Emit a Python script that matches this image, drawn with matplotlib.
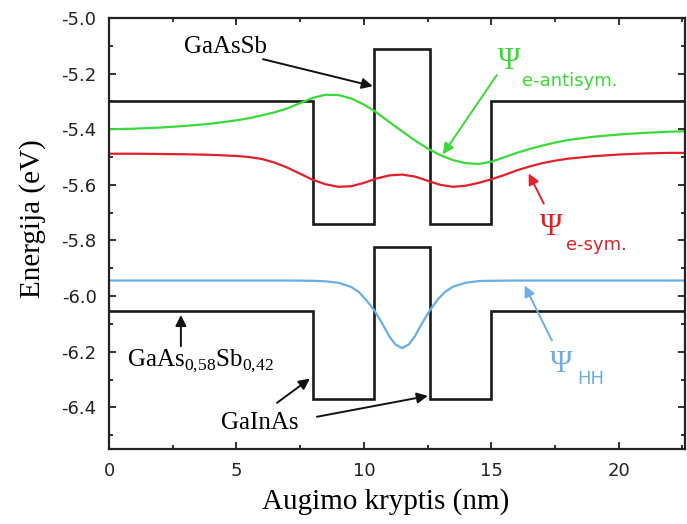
import numpy as np
import matplotlib
matplotlib.use("Agg")
import matplotlib.pyplot as plt
from matplotlib.ticker import MultipleLocator

plt.rcParams['axes.unicode_minus'] = False
plt.rcParams['mathtext.fontset'] = 'custom'
plt.rcParams['mathtext.rm'] = 'Liberation Serif'

# ---------------------------------------------------------------
# layer structure: GaAsSb / GaInAs / GaAsSb / GaInAs / GaAsSb
layer_edges = [0.0, 8.0, 10.4, 12.6, 15.0, 22.6]
cb_levels = [-5.30, -5.74, -5.11, -5.74, -5.30]      # conduction band edge (eV)
vb_levels = [-6.055, -6.37, -5.825, -6.37, -6.055]   # valence band edge (eV)

# electron wavefunction, antisymmetric state
x_anti = [0, 1, 2, 3, 4, 5, 5.5, 6, 6.5, 7, 7.5, 8, 8.5, 9, 9.5, 10, 10.4,
          11, 11.5, 12, 12.5, 13, 13.5, 14, 14.5, 15, 15.5, 16, 16.5, 17,
          17.5, 18, 19, 20, 21, 22, 22.6]
y_anti = [-5.400, -5.398, -5.394, -5.388, -5.380, -5.368, -5.360, -5.350,
          -5.339, -5.325, -5.306, -5.287, -5.276, -5.277, -5.289, -5.311,
          -5.333, -5.374, -5.407, -5.440, -5.469, -5.493, -5.511, -5.522,
          -5.525, -5.517, -5.501, -5.485, -5.471, -5.459, -5.448, -5.439,
          -5.427, -5.419, -5.413, -5.409, -5.407]

# electron wavefunction, symmetric state
x_sym = [0, 1, 2, 3, 4, 5, 5.5, 6, 6.5, 7, 7.5, 8, 8.5, 9, 9.5, 10, 10.5,
         11, 11.5, 12, 12.5, 13, 13.5, 14, 14.5, 15, 15.5, 16, 16.5, 17,
         17.5, 18, 19, 20, 21, 22, 22.6]
y_sym = [-5.488, -5.488, -5.489, -5.490, -5.492, -5.496, -5.500, -5.507,
         -5.520, -5.538, -5.560, -5.582, -5.598, -5.607, -5.605, -5.593,
         -5.577, -5.566, -5.563, -5.570, -5.585, -5.600, -5.607, -5.603,
         -5.593, -5.580, -5.565, -5.548, -5.534, -5.522, -5.513, -5.506,
         -5.497, -5.491, -5.487, -5.485, -5.485]

# heavy hole wavefunction
x_hh = [0, 2, 4, 6, 7, 8, 8.5, 9, 9.5, 9.8, 10.1, 10.4, 10.7, 11.0, 11.25,
        11.5, 11.75, 12.0, 12.3, 12.6, 12.9, 13.2, 13.5, 14, 14.5, 15, 16,
        18, 20, 22.6]
y_hh = [-5.944, -5.944, -5.944, -5.944, -5.944, -5.945, -5.947, -5.952,
        -5.967, -5.985, -6.015, -6.050, -6.095, -6.145, -6.175, -6.187,
        -6.175, -6.145, -6.095, -6.050, -6.012, -5.984, -5.966, -5.952,
        -5.946, -5.945, -5.944, -5.944, -5.944, -5.944]

green = '#3ad93a'
red = '#e0202a'
blue = '#6aaee2'
serif = 'Liberation Serif'

# ---------------------------------------------------------------
fig = plt.figure(figsize=(6.87, 5.24), dpi=100)
ax = fig.add_axes([0.1587, 0.1431, 0.8383, 0.8225])

ax.stairs(cb_levels, layer_edges, baseline=None, color='#1a1a1a', lw=1.9)
ax.stairs(vb_levels, layer_edges, baseline=None, color='#1a1a1a', lw=1.9)

ax.plot(x_anti, y_anti, color=green, lw=1.6)
ax.plot(x_sym, y_sym, color=red, lw=1.6)
ax.plot(x_hh, y_hh, color=blue, lw=1.6)

ax.set_xlim(0, 22.6)
ax.set_ylim(-6.55, -5.0)

ax.xaxis.set_major_locator(MultipleLocator(5))
ax.xaxis.set_minor_locator(MultipleLocator(2.5))
ax.yaxis.set_major_locator(MultipleLocator(0.2))
ax.yaxis.set_minor_locator(MultipleLocator(0.1))
ax.yaxis.set_major_formatter(plt.FormatStrFormatter('%.1f'))
ax.tick_params(which='both', direction='in', top=True, right=True,
               width=1.3, colors='#222222', labelsize=13, pad=9)
ax.tick_params(which='major', length=5)
ax.tick_params(which='minor', length=3)
for s in ax.spines.values():
    s.set_linewidth(1.6)
    s.set_color('#222222')

ax.set_xlabel('Augimo kryptis (nm)', fontfamily=serif, fontsize=21)
ax.set_ylabel('Energija (eV)', fontfamily=serif, fontsize=21)
ax.xaxis.set_label_coords(0.48, -0.09)
ax.yaxis.set_label_coords(-0.11, 0.535)

# ---------------------------------------------------------------
# labels and arrows
arrow = dict(arrowstyle='-|>', color='#111111', lw=1.4, mutation_scale=16,
             shrinkA=0, shrinkB=0)

ax.text(4.59, -5.105, 'GaAsSb', fontfamily=serif, fontsize=18,
        ha='center', va='center')
ax.annotate('', xy=(10.35, -5.245), xytext=(6.04, -5.148), arrowprops=arrow)

ax.text(3.6, -6.235, r'GaAs$_{\mathrm{0{,}58}}$Sb$_{\mathrm{0{,}42}}$',
        fontfamily=serif, fontsize=18, ha='center', va='center')
ax.annotate('', xy=(2.82, -6.068), xytext=(2.82, -6.18), arrowprops=arrow)

ax.text(5.92, -6.456, 'GaInAs', fontfamily=serif, fontsize=18,
        ha='center', va='center')
ax.annotate('', xy=(7.88, -6.297), xytext=(6.59, -6.384), arrowprops=arrow)
ax.annotate('', xy=(12.51, -6.359), xytext=(8.16, -6.434), arrowprops=arrow)

# wavefunction labels
ax.text(15.69, -5.155, '\u03a8', fontfamily=serif, fontsize=22, color=green,
        ha='center', va='center')
ax.text(16.2, -5.227, 'e-antisym.', fontsize=13, color=green,
        ha='left', va='center')
ax.annotate('', xy=(13.1, -5.49), xytext=(15.22, -5.205),
            arrowprops=dict(arrow, color=green))

ax.text(17.37, -5.753, '\u03a8', fontfamily=serif, fontsize=22, color=red,
        ha='center', va='center')
ax.text(17.92, -5.818, 'e-sym.', fontsize=13, color=red,
        ha='left', va='center')
ax.annotate('', xy=(16.47, -5.559), xytext=(17.06, -5.667),
            arrowprops=dict(arrow, color=red))

ax.text(17.73, -6.245, '\u03a8', fontfamily=serif, fontsize=22, color=blue,
        ha='center', va='center')
ax.text(18.39, -6.297, 'HH', fontsize=13, color=blue,
        ha='left', va='center')
ax.annotate('', xy=(16.31, -5.962), xytext=(17.38, -6.16),
            arrowprops=dict(arrow, color=blue))

fig.savefig('out.png', dpi=100)
